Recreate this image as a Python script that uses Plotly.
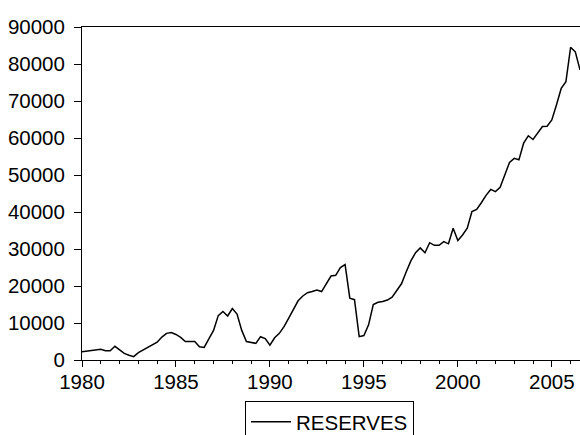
import plotly.graph_objects as go

# Quarterly reserves, 1980Q1 onwards (one row per year)
start_year = 1980
reserves = [
    2200, 2400, 2700, 2900,      # 1980
    2900, 2500, 2500, 3700,      # 1981
    2700, 1800, 1300, 900,       # 1982
    2000, 2700, 3300, 3900,      # 1983
    4800, 6200, 7200, 7400,      # 1984
    6900, 6100, 5000, 5000,      # 1985
    5000, 3600, 3400, 5700,      # 1986
    8000, 12000, 13100, 11900,   # 1987
    13900, 12400, 8000, 5000,    # 1988
    4800, 4500, 6300, 5800,      # 1989
    4000, 6000, 7200, 9000,      # 1990
    11300, 13500, 16000, 17300,  # 1991
    18200, 18500, 18900, 18500,  # 1992
    20700, 22700, 22900, 25000,  # 1993
    25800, 16700, 16300, 6300,   # 1994
    6600, 9500, 15000, 15600,    # 1995
    15800, 16200, 17000, 18800,  # 1996
    20600, 23800, 26800, 29000,  # 1997
    30300, 29000, 31700, 31000,  # 1998
    31000, 32000, 31400, 35600,  # 1999
    32300, 33800, 35600, 40100,  # 2000
    40700, 42500, 44500, 46100,  # 2001
    45500, 46700, 50000, 53400,  # 2002
    54500, 54100, 58600, 60600,  # 2003
    59600, 61200, 63100, 63200,  # 2004
    64900, 69000, 73400, 75200,  # 2005
    84500, 83300, 78400,         # 2006
]
series_name = "RESERVES"
x_ticks = [1980, 1985, 1990, 1995, 2000, 2005]
y_ticks = [0, 10000, 20000, 30000, 40000, 50000, 60000, 70000, 80000, 90000]

periods = [start_year + q / 4 for q in range(len(reserves))]

FONT = "Arial, Liberation Sans, sans-serif"
FONT_SIZE = 20.5

fig = go.Figure(
    go.Scatter(
        x=periods,
        y=reserves,
        mode="lines",
        name=series_name,
        line=dict(color="black", width=1.5),
        showlegend=True,
    )
)

fig.update_layout(
    width=580,
    height=435,
    margin=dict(l=82, r=0, t=27, b=75, autoexpand=False),
    paper_bgcolor="white",
    plot_bgcolor="white",
    font=dict(family=FONT, size=FONT_SIZE, color="black"),
    legend=dict(
        x=(245 - 82) / 498,
        xanchor="left",
        y=-41 / 333,
        yanchor="top",
        orientation="h",
        bordercolor="black",
        borderwidth=1,
        bgcolor="white",
        itemwidth=40,
        font=dict(family=FONT, size=FONT_SIZE, color="black"),
    ),
)

fig.update_xaxes(
    range=[1980, 2006.5],
    tickvals=x_ticks,
    ticktext=[str(v) for v in x_ticks],
    ticks="outside",
    ticklen=6,
    tickwidth=1,
    tickcolor="black",
    ticklabelstandoff=-3,
    minor=dict(dtick=1, tick0=1980, ticks="outside", ticklen=3, tickcolor="black"),
    showline=True,
    linecolor="black",
    linewidth=1,
    mirror=True,
    showgrid=False,
    zeroline=False,
)

fig.update_yaxes(
    range=[0, 90000],
    tickvals=y_ticks,
    ticktext=[str(v) for v in y_ticks],
    ticks="outside",
    ticklen=7,
    tickwidth=1,
    tickcolor="black",
    ticklabelstandoff=5,
    showline=True,
    linecolor="black",
    linewidth=1,
    showgrid=False,
    zeroline=False,
)

fig.write_html("out.html")
